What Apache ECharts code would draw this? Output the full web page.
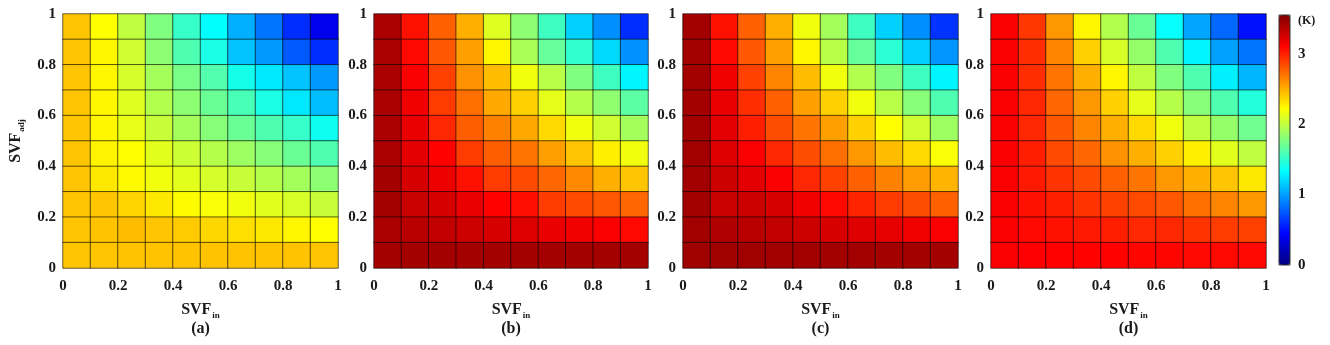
<!DOCTYPE html>
<html><head><meta charset="utf-8">
<script src="https://cdn.jsdelivr.net/npm/echarts@6/dist/echarts.min.js"></script>
<style>html,body{margin:0;padding:0;background:#fff}#c{width:1330px;height:345px}</style>
</head><body><div id="c"></div>
<script>
// SVF bins (cells), tick labels, panel labels
const svfBins = ['0-0.1','0.1-0.2','0.2-0.3','0.3-0.4','0.4-0.5','0.5-0.6','0.6-0.7','0.7-0.8','0.8-0.9','0.9-1'];
const axisTicks = [0, 0.2, 0.4, 0.6, 0.8, 1];
const colorbarTicks = [0, 1, 2, 3];
const valueMin = 0, valueMax = 3.55;
const panelNames = ['(a)', '(b)', '(c)', '(d)'];
const unitLabel = '(K)';

// Rows: SVF_adj 0.9-1 (top) down to 0-0.1 (bottom); columns: SVF_in 0-0.1 ... 0.9-1  (values in K)
const panelA = [
  [2.42, 2.22, 2.00, 1.78, 1.52, 1.33, 1.05, 0.85, 0.60, 0.38],
  [2.42, 2.25, 2.05, 1.82, 1.60, 1.42, 1.12, 0.98, 0.75, 0.60],
  [2.42, 2.25, 2.07, 1.90, 1.75, 1.62, 1.40, 1.25, 1.12, 0.98],
  [2.42, 2.25, 2.10, 1.95, 1.82, 1.70, 1.58, 1.42, 1.25, 1.10],
  [2.42, 2.25, 2.14, 2.02, 1.90, 1.80, 1.70, 1.60, 1.52, 1.38],
  [2.42, 2.26, 2.22, 2.12, 2.04, 1.96, 1.88, 1.80, 1.70, 1.60],
  [2.42, 2.30, 2.24, 2.17, 2.12, 2.07, 2.02, 1.96, 1.90, 1.82],
  [2.42, 2.42, 2.37, 2.30, 2.23, 2.20, 2.17, 2.12, 2.08, 2.02],
  [2.42, 2.43, 2.45, 2.42, 2.40, 2.36, 2.33, 2.30, 2.25, 2.22],
  [2.42, 2.42, 2.43, 2.43, 2.43, 2.43, 2.43, 2.43, 2.43, 2.42]
];
const panelB = [
  [3.40, 3.05, 2.77, 2.50, 2.10, 1.82, 1.55, 1.17, 0.94, 0.60],
  [3.40, 3.08, 2.80, 2.55, 2.25, 1.92, 1.68, 1.50, 1.20, 0.95],
  [3.40, 3.12, 2.88, 2.60, 2.45, 2.17, 1.97, 1.78, 1.55, 1.30],
  [3.40, 3.15, 2.90, 2.72, 2.52, 2.38, 2.13, 1.96, 1.83, 1.65],
  [3.40, 3.18, 2.97, 2.78, 2.66, 2.52, 2.35, 2.17, 2.05, 1.90],
  [3.40, 3.20, 3.10, 2.90, 2.78, 2.70, 2.55, 2.42, 2.27, 2.17],
  [3.42, 3.25, 3.17, 3.05, 2.90, 2.85, 2.75, 2.63, 2.50, 2.42],
  [3.42, 3.30, 3.25, 3.18, 3.10, 3.06, 2.90, 2.85, 2.80, 2.75],
  [3.40, 3.35, 3.32, 3.28, 3.25, 3.22, 3.18, 3.15, 3.12, 3.08],
  [3.42, 3.42, 3.42, 3.42, 3.42, 3.42, 3.42, 3.42, 3.42, 3.42]
];
const panelC = [
  [3.42, 3.05, 2.77, 2.50, 2.17, 1.90, 1.55, 1.17, 0.94, 0.62],
  [3.42, 3.08, 2.80, 2.55, 2.25, 1.97, 1.68, 1.48, 1.17, 0.96],
  [3.42, 3.15, 2.88, 2.65, 2.45, 2.17, 1.95, 1.78, 1.55, 1.30],
  [3.42, 3.18, 2.95, 2.77, 2.55, 2.38, 2.17, 1.97, 1.80, 1.60],
  [3.42, 3.20, 3.00, 2.84, 2.70, 2.55, 2.38, 2.22, 2.05, 1.88],
  [3.43, 3.23, 3.12, 2.97, 2.84, 2.72, 2.58, 2.45, 2.35, 2.20],
  [3.43, 3.28, 3.20, 3.12, 2.97, 2.88, 2.77, 2.66, 2.56, 2.48],
  [3.43, 3.30, 3.28, 3.25, 3.15, 3.08, 2.98, 2.90, 2.84, 2.77],
  [3.43, 3.38, 3.35, 3.32, 3.28, 3.25, 3.22, 3.19, 3.15, 3.12],
  [3.44, 3.44, 3.44, 3.43, 3.43, 3.43, 3.43, 3.42, 3.42, 3.42]
];
const panelD = [
  [3.12, 2.92, 2.58, 2.25, 1.95, 1.70, 1.35, 1.02, 0.80, 0.50],
  [3.12, 2.95, 2.65, 2.38, 2.08, 1.85, 1.60, 1.30, 1.00, 0.85],
  [3.12, 2.95, 2.70, 2.50, 2.25, 2.00, 1.78, 1.60, 1.28, 1.08],
  [3.12, 2.97, 2.75, 2.58, 2.38, 2.13, 1.96, 1.80, 1.60, 1.45],
  [3.12, 2.97, 2.80, 2.65, 2.50, 2.35, 2.17, 2.00, 1.85, 1.72],
  [3.12, 3.00, 2.85, 2.75, 2.60, 2.50, 2.38, 2.27, 2.12, 2.00],
  [3.12, 3.02, 2.93, 2.85, 2.77, 2.70, 2.58, 2.50, 2.42, 2.30],
  [3.12, 3.05, 3.00, 2.93, 2.88, 2.85, 2.80, 2.72, 2.65, 2.58],
  [3.12, 3.08, 3.05, 3.02, 3.00, 2.97, 2.97, 2.93, 2.90, 2.88],
  [3.12, 3.11, 3.10, 3.10, 3.10, 3.09, 3.09, 3.08, 3.08, 3.07]
];
const panels = [panelA, panelB, panelC, panelD];

const jet = ['#000080','#0000ff','#0080ff','#00ffff','#80ff80','#ffff00','#ff8000','#ff0000','#800000'];
const FONT = 'Liberation Serif';
const TXT = '#1a1a1a';
const gridBoxes = [
  {left: 63, top: 14, width: 275, height: 254},
  {left: 374, top: 14, width: 274, height: 254},
  {left: 683, top: 14, width: 275, height: 254},
  {left: 991, top: 14, width: 275, height: 254}
];
const cbBox = {left: 1279, top: 15, width: 11, height: 250};

const nameRich = {
  m: {fontFamily: FONT, fontWeight: 'bold', fontSize: 16, color: TXT, verticalAlign: 'top', lineHeight: 18},
  s: {fontFamily: FONT, fontWeight: 'bold', fontSize: 9, color: TXT, verticalAlign: 'bottom', lineHeight: 10, padding: [12, 0, 0, 1]}
};
const tickLabel = {fontFamily: FONT, fontWeight: 'bold', fontSize: 15, color: TXT};

const grid = gridBoxes.map(b => Object.assign({containLabel: false}, b));
grid.push(Object.assign({show: true, z: 10, borderColor: '#333', borderWidth: 1, backgroundColor: 'transparent'}, cbBox));

const xAxis = [], yAxis = [], series = [];
gridBoxes.forEach((b, i) => {
  xAxis.push({
    type: 'value', gridIndex: i, min: axisTicks[0], max: axisTicks[axisTicks.length - 1],
    interval: axisTicks[1] - axisTicks[0], position: 'bottom',
    axisLine: {show: false}, axisTick: {show: false}, splitLine: {show: false},
    axisLabel: Object.assign({margin: 11}, tickLabel),
    name: '{m|SVF}{s|in}', nameLocation: 'middle', nameGap: 29,
    nameTextStyle: {rich: nameRich}
  });
  yAxis.push({
    type: 'value', gridIndex: i, min: axisTicks[0], max: axisTicks[axisTicks.length - 1],
    interval: axisTicks[1] - axisTicks[0], position: 'left',
    axisLine: {show: false}, axisTick: {show: false}, splitLine: {show: false},
    axisLabel: Object.assign({margin: 7}, tickLabel),
    name: i === 0 ? '{m|SVF}{s|adj}' : '', nameLocation: 'middle', nameGap: 37,
    nameTextStyle: {rich: nameRich}
  });
});
gridBoxes.forEach((b, i) => {
  xAxis.push({type: 'category', gridIndex: i, data: svfBins, show: false});
  yAxis.push({type: 'category', gridIndex: i, data: svfBins, show: false});
  const data = [];
  panels[i].forEach((row, r) => row.forEach((v, c) => data.push([c, svfBins.length - 1 - r, v])));
  series.push({
    type: 'heatmap', xAxisIndex: 4 + i, yAxisIndex: 4 + i, data: data,
    itemStyle: {borderColor: 'rgba(0,0,0,0.6)', borderWidth: 1},
    emphasis: {disabled: true}
  });
});
// colorbar axes
xAxis.push({type: 'value', gridIndex: 4, show: false, min: 0, max: 1});
yAxis.push({
  type: 'value', gridIndex: 4, min: valueMin, max: valueMax, interval: 1, position: 'right',
  axisLine: {show: false}, axisTick: {show: false}, splitLine: {show: false},
  axisLabel: Object.assign({margin: 8, showMaxLabel: false,
    formatter: v => colorbarTicks.indexOf(v) >= 0 ? String(v) : ''}, tickLabel)
});

const graphic = gridBoxes.map((b, i) => ({
  type: 'text', x: b.left + b.width / 2, y: 329,
  style: {text: panelNames[i], font: 'bold 16px "' + FONT + '"', fill: TXT, textAlign: 'center', textVerticalAlign: 'middle'}
}));
graphic.push({type: 'text', x: 1298, y: 21,
  style: {text: unitLabel, font: 'bold 12px "' + FONT + '"', fill: TXT, textAlign: 'left', textVerticalAlign: 'middle'}});

const chart = echarts.init(document.getElementById('c'), null, {renderer: 'canvas'});
chart.setOption({
  animation: false,
  backgroundColor: '#fff',
  grid: grid, xAxis: xAxis, yAxis: yAxis, series: series, graphic: graphic,
  visualMap: {
    type: 'continuous', min: valueMin, max: valueMax, seriesIndex: [0, 1, 2, 3],
    inRange: {color: jet}, calculable: false, orient: 'vertical',
    left: cbBox.left, top: cbBox.top, itemWidth: cbBox.width, itemHeight: cbBox.height,
    padding: 0, text: null, hoverLink: false
  }
});
</script>
</body></html>
